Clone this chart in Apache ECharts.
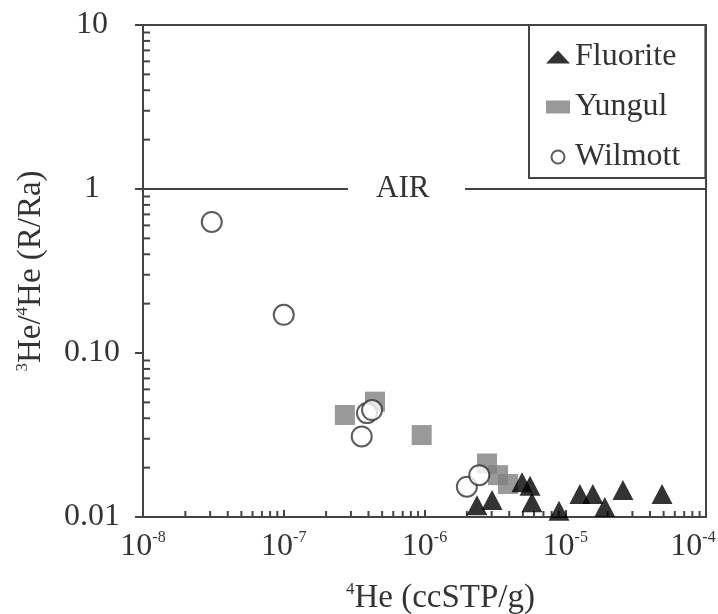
<!DOCTYPE html>
<html>
<head>
<meta charset="utf-8">
<script src="https://cdn.jsdelivr.net/npm/echarts@6/dist/echarts.min.js"></script>
<style>html,body{margin:0;padding:0;background:#fff;overflow:hidden}#c{width:718px;height:614px}</style>
</head>
<body>
<div id="c"></div>
<script>
// ---- data ----
var fluoriteX = [2.36e-6, 3.02e-6, 4.93e-6, 5.62e-6, 5.8e-6, 9.03e-6, 1.27e-5, 1.57e-5, 1.91e-5, 2.57e-5, 4.87e-5];
var fluoriteY = [0.0118, 0.0127, 0.0163, 0.0155, 0.0123, 0.0109, 0.0138, 0.0138, 0.0115, 0.0146, 0.0138];
var yungulX = [2.72e-7, 4.45e-7, 9.55e-7, 2.78e-6, 3.33e-6, 3.92e-6];
var yungulY = [0.0419, 0.0505, 0.0316, 0.0212, 0.018, 0.0159];
var wilmottX = [3.08e-8, 1.0e-7, 3.58e-7, 3.9e-7, 4.24e-7, 2.0e-6, 2.45e-6];
var wilmottY = [0.63, 0.171, 0.031, 0.043, 0.0449, 0.0153, 0.018];
var airValue = 1;
var airGap = [2.86e-7, 1.94e-6];
var airLabelX = 7.0e-7;
var xMin = 1e-8, xMax = 1e-4;
var yMin = 0.01, yMax = 10;
var yTickValues = [0.01, 0.1, 1, 10];
var yTickText = ['0.01', '0.10', '1', '10'];
var seriesNames = ['Fluorite', 'Yungul', 'Wilmott'];

function zip(xs, ys) { return xs.map(function (x, i) { return [x, ys[i]]; }); }

var FONT = 'Liberation Serif';
var TXT = '#333';
var LINE = '#444';

function minorValues(lo, hi) {
  var out = [];
  for (var e = Math.round(Math.log10(lo)); e < Math.round(Math.log10(hi)); e++) {
    for (var m = 2; m <= 9; m++) out.push(m * Math.pow(10, e));
  }
  return out;
}
var xMinor = minorValues(xMin, xMax);
var yMinor = minorValues(yMin, yMax);

var richSup = function (size) {
  return {
    b: {fontFamily: FONT, fontSize: size, color: TXT, lineHeight: size + 2},
    s: {fontFamily: FONT, fontSize: Math.round(size * 0.5), color: TXT, verticalAlign: 'top', lineHeight: size + 2},
    p: {width: 26, lineHeight: size + 2}
  };
};

var chart = echarts.init(document.getElementById('c'), null, {renderer: 'canvas'});
var option = {
  animation: false,
  backgroundColor: '#fff',
  textStyle: {fontFamily: FONT, color: TXT},
  grid: {left: 143, right: 12, top: 25, bottom: 97, containLabel: false, outerBoundsMode: 'none',
         show: true, borderColor: LINE, borderWidth: 2, backgroundColor: 'transparent'},
  legend: {
    data: seriesNames,
    orient: 'vertical',
    left: 529, top: 25,
    padding: [16, 25, 5, 17],
    itemWidth: 24, itemHeight: 13,
    itemGap: 18,
    backgroundColor: '#fff',
    borderColor: LINE, borderWidth: 2,
    textStyle: {fontFamily: FONT, fontSize: 32, color: TXT, lineHeight: 32}
  },
  xAxis: {
    type: 'log', logBase: 10, min: xMin, max: xMax, splitNumber: 4,
    name: '{s|4}{b|He (ccSTP/g)}',
    nameLocation: 'middle', nameGap: 64,
    nameTextStyle: {padding: [0, 0, 0, 32], rich: richSup(33)},
    axisLine: {show: true, lineStyle: {color: LINE, width: 2}},
    axisTick: {show: true, inside: true, length: 7, lineStyle: {color: LINE, width: 2}},
    splitLine: {show: false},
    axisLabel: {
      margin: 13, hideOverlap: false,
      formatter: function (v) {
        var e = Math.round(Math.log10(v));
        var s = '{b|10}{s|' + e + '}';
        if (Math.abs(v - xMax) / xMax < 1e-6) s += '{p|}';
        return s;
      },
      rich: richSup(32)
    }
  },
  yAxis: {
    type: 'log', logBase: 10, min: yMin, max: yMax, splitNumber: 3,
    name: '{s|3}{b|He/}{s|4}{b|He (R/Ra)}',
    nameLocation: 'middle', nameGap: 94, nameRotate: 90,
    nameTextStyle: {rich: richSup(33)},
    axisLine: {show: true, lineStyle: {color: LINE, width: 2}},
    axisTick: {show: true, inside: false, length: 8, lineStyle: {color: LINE, width: 2}},
    splitLine: {show: false},
    axisLabel: {
      margin: 51, align: 'center',
      fontFamily: FONT, fontSize: 32, color: TXT,
      formatter: function (v) {
        for (var i = 0; i < yTickValues.length; i++) {
          if (Math.abs(Math.log10(v) - Math.log10(yTickValues[i])) < 1e-6) return yTickText[i];
        }
        return '';
      }
    }
  },
  series: [
    {
      name: 'AIR', type: 'line', silent: true, symbol: 'none', z: 1,
      lineStyle: {color: LINE, width: 2},
      connectNulls: false,
      data: [[xMin, airValue], [airGap[0], airValue], '-', [airGap[1], airValue], [xMax, airValue]],
      markPoint: {
        symbol: 'rect', symbolSize: 1, itemStyle: {color: 'rgba(0,0,0,0)'},
        label: {show: true, position: 'inside', formatter: 'AIR', fontFamily: FONT, fontSize: 31, color: TXT},
        data: [{coord: [airLabelX, airValue]}]
      }
    },
    {
      name: 'minorTicksX', type: 'custom', silent: true, clip: false, z: 3,
      data: xMinor.map(function (v) { return [v, yMin]; }),
      renderItem: function (params, api) {
        var p = api.coord([api.value(0), api.value(1)]);
        return {type: 'line', shape: {x1: p[0], y1: p[1], x2: p[0], y2: p[1] - 6}, style: {stroke: LINE, lineWidth: 2}};
      }
    },
    {
      name: 'minorTicksY', type: 'custom', silent: true, clip: false, z: 3,
      data: yMinor.map(function (v) { return [xMin, v]; }),
      renderItem: function (params, api) {
        var p = api.coord([api.value(0), api.value(1)]);
        return {type: 'line', shape: {x1: p[0], y1: p[1], x2: p[0] + 7, y2: p[1]}, style: {stroke: LINE, lineWidth: 2}};
      }
    },
    {
      name: 'Yungul', type: 'scatter', symbol: 'rect', symbolSize: 20, z: 4,
      itemStyle: {color: '#808080'},
      data: zip(yungulX, yungulY)
    },
    {
      name: 'Fluorite', type: 'scatter', symbol: 'triangle', symbolSize: [21, 20], z: 5,
      itemStyle: {color: '#000'},
      data: zip(fluoriteX, fluoriteY)
    },
    {
      name: 'Wilmott', type: 'scatter', symbol: 'circle', symbolSize: 20, z: 6,
      itemStyle: {color: '#fff', borderColor: '#333', borderWidth: 2},
      data: zip(wilmottX, wilmottY)
    }
  ]
};
chart.setOption(option);
</script>
</body>
</html>
